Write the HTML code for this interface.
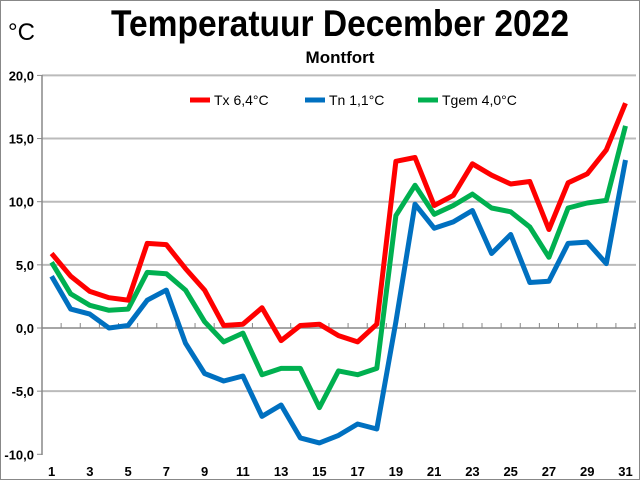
<!DOCTYPE html>
<html><head><meta charset="utf-8"><style>
body{margin:0;background:#fff}
svg{display:block}
text{font-family:"Liberation Sans",Arial,sans-serif}
</style></head><body>
<svg id="s" width="640" height="480" xmlns="http://www.w3.org/2000/svg">
<rect x="0.5" y="0.5" width="639" height="479" fill="#fff" stroke="#888"/>
<text x="340" y="36" font-size="37" font-weight="bold" text-anchor="middle" textLength="458" lengthAdjust="spacingAndGlyphs">Temperatuur December 2022</text>
<text x="340" y="63" font-size="17" font-weight="bold" text-anchor="middle">Montfort</text>
<text x="8" y="40" font-size="24">°C</text>
<g id="g"></g>
</svg>
<script>
var g=document.getElementById('g'),h='';
function Y(v){return 328-v*12.63}
function X(d){return 42+19.13*(d-0.5)}
[20,15,10,5,-5].forEach(function(v){h+='<line x1="42" x2="636" y1="'+Y(v)+'" y2="'+Y(v)+'" stroke="#bbb" stroke-width="2"/>';});
h+='<line x1="42" x2="42" y1="75" y2="455" stroke="#888" stroke-width="1.5"/>';
h+='<line x1="42" x2="636" y1="328" y2="328" stroke="#888" stroke-width="1.5"/>';
for(var k=0;k<=31;k++){var x=42+19.13*k;h+='<line x1="'+x+'" x2="'+x+'" y1="323" y2="328" stroke="#888"/>';}
[20,15,10,5,0,-5,-10].forEach(function(v){h+='<line x1="37" x2="42" y1="'+Y(v)+'" y2="'+Y(v)+'" stroke="#888"/><text x="34" y="'+(Y(v)+5)+'" font-size="13" font-weight="bold" text-anchor="end">'+v.toFixed(1).replace('.',',')+'</text>';});
for(var d=1;d<=31;d+=2)h+='<text x="'+X(d)+'" y="476" font-size="13" font-weight="bold" text-anchor="middle">'+d+'</text>';
var tx=[5.9,4.1,2.9,2.4,2.2,6.7,6.6,4.7,3.0,0.2,0.3,1.6,-1.0,0.2,0.3,-0.6,-1.1,0.3,13.2,13.5,9.7,10.5,13.0,12.1,11.4,11.6,7.8,11.5,12.2,14.1,17.8];
var tn=[4.1,1.5,1.1,0.0,0.2,2.2,3.0,-1.2,-3.6,-4.2,-3.8,-7.0,-6.1,-8.7,-9.1,-8.5,-7.6,-8.0,0.5,9.8,7.9,8.4,9.3,5.9,7.4,3.6,3.7,6.7,6.8,5.1,13.3];
var tg=[5.2,2.7,1.8,1.4,1.5,4.4,4.3,3.0,0.5,-1.1,-0.4,-3.7,-3.2,-3.2,-6.3,-3.4,-3.7,-3.2,8.9,11.3,9.0,9.7,10.6,9.5,9.2,8.0,5.6,9.5,9.9,10.1,16.0];
function line(a,c){return '<polyline fill="none" stroke="'+c+'" stroke-width="5" stroke-linejoin="round" points="'+a.map(function(v,i){return X(i+1).toFixed(1)+','+Y(v).toFixed(1)}).join(' ')+'"/>';}
h+=line(tn,'#0070c0')+line(tg,'#00b050')+line(tx,'#ff0000');
function leg(x,c,t){return '<line x1="'+x+'" x2="'+(x+20)+'" y1="100" y2="100" stroke="'+c+'" stroke-width="5"/><text x="'+(x+24)+'" y="105" font-size="14">'+t+'</text>';}
h+=leg(190,'#ff0000','Tx 6,4°C')+leg(305,'#0070c0','Tn 1,1°C')+leg(418,'#00b050','Tgem 4,0°C');
g.innerHTML=h;
</script>
</body></html>
